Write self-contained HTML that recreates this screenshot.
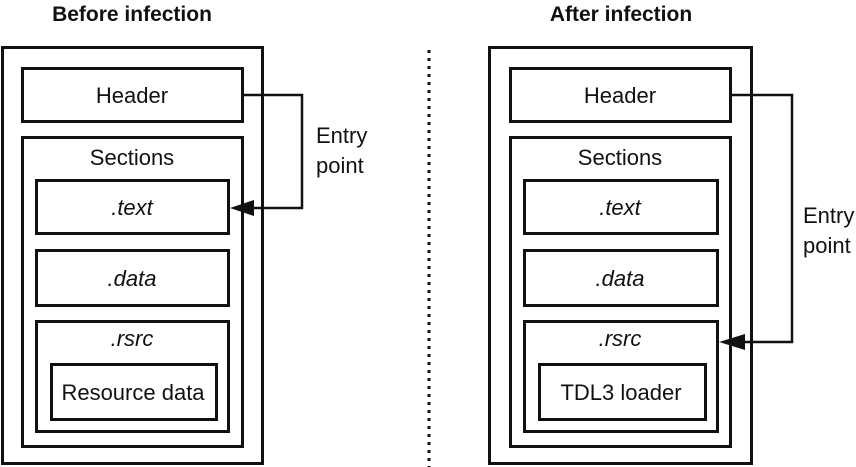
<!DOCTYPE html>
<html><head><meta charset="utf-8"><style>
html,body{margin:0;padding:0;background:#fff;}
svg{display:block;}
text{font-family:"Liberation Sans",sans-serif;fill:#111;}
</style></head><body>
<svg width="856" height="467" viewBox="0 0 856 467" xmlns="http://www.w3.org/2000/svg">
<g fill="none" stroke="#111">
<rect x="2.5" y="47.5" width="260" height="416" stroke-width="3"/>
<rect x="22.5" y="68.5" width="220" height="53" stroke-width="3"/>
<rect x="22.5" y="137.5" width="220" height="309" stroke-width="3"/>
<rect x="36.5" y="180.5" width="192" height="53" stroke-width="3"/>
<rect x="36.5" y="250.5" width="192" height="55" stroke-width="3"/>
<rect x="36.5" y="321.5" width="192" height="110" stroke-width="3"/>
<rect x="51.5" y="364.5" width="165" height="55" stroke-width="3"/>
<polyline points="243,95 302,95 302,208 248,208" stroke-width="2.5"/>
<rect x="489.5" y="47.5" width="262" height="416" stroke-width="3"/>
<rect x="510.5" y="68.5" width="220" height="53" stroke-width="3"/>
<rect x="510.5" y="137.5" width="220" height="309" stroke-width="3"/>
<rect x="524.5" y="180.5" width="193" height="53" stroke-width="3"/>
<rect x="524.5" y="250.5" width="193" height="55" stroke-width="3"/>
<rect x="524.5" y="321.5" width="193" height="110" stroke-width="3"/>
<rect x="539.5" y="364.5" width="166" height="55" stroke-width="3"/>
<polyline points="731,95 792,95 792,342 738,342" stroke-width="2.5"/>
<line x1="429" y1="50" x2="429" y2="467" stroke-width="3" stroke-dasharray="3,5"/>
</g>
<polygon points="230,208 254,200 254,216" fill="#111"/>
<polygon points="719,342 745,334 745,350" fill="#111"/>
<g font-size="22" text-anchor="middle">
<text x="132" y="21" font-weight="bold" font-size="21">Before infection</text>
<text x="621" y="21" font-weight="bold" font-size="21">After infection</text>
<text x="132" y="103">Header</text>
<text x="132" y="165">Sections</text>
<text x="132" y="215" font-style="italic">.text</text>
<text x="132" y="286" font-style="italic">.data</text>
<text x="132" y="346" font-style="italic">.rsrc</text>
<text x="133" y="400">Resource data</text>
<text x="620" y="103">Header</text>
<text x="620" y="165">Sections</text>
<text x="620" y="215" font-style="italic">.text</text>
<text x="620" y="286" font-style="italic">.data</text>
<text x="620" y="346" font-style="italic">.rsrc</text>
<text x="621" y="400">TDL3 loader</text>
</g>
<g font-size="22">
<text x="316" y="143">Entry</text>
<text x="316" y="173">point</text>
<text x="803" y="223">Entry</text>
<text x="803" y="253">point</text>
</g>
</svg>
</body></html>
